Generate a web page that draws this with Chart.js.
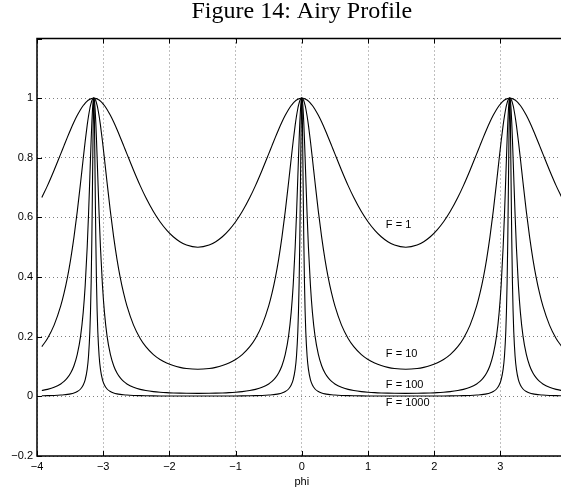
<!DOCTYPE html>
<html>
<head>
<meta charset="utf-8">
<script src="https://cdn.jsdelivr.net/npm/chart.js@4.4.0/dist/chart.umd.min.js"></script>
<style>
body { margin: 0; background: #fff; }
#wrap { width: 561px; height: 491px; overflow: hidden; }
</style>
</head>
<body>
<div id="wrap"><canvas id="graph1" width="592" height="491"></canvas></div>
<script>
// phi values (denser near the peaks at -pi, 0, pi)
const phi = [
    -3.9270, -3.8416, -3.7416, -3.6416, -3.5916, -3.5416, -3.4916, -3.4416, -3.3916, -3.3416, -3.3016, -3.2716, -3.2416, -3.2216, -3.2016, -3.1916, -3.1816, -3.1716, -3.1616, -3.1516, -3.1466,
    -3.1416,
    -3.1366, -3.1316, -3.1216, -3.1116, -3.1016, -3.0916, -3.0816, -3.0616, -3.0416, -3.0116, -2.9816, -2.9416, -2.8916, -2.8416, -2.7916, -2.7416, -2.6916, -2.6416, -2.5416, -2.4416, -2.3562, -2.2416, -2.1416, -2.0416, -1.9416, -1.8416, -1.7416,
    -1.5708,
    -1.4, -1.3, -1.2, -1.1, -1.0, -0.9, -0.7854, -0.7, -0.6, -0.5, -0.45, -0.4, -0.35, -0.3, -0.25, -0.2, -0.16, -0.13, -0.1, -0.08, -0.06, -0.05, -0.04, -0.03, -0.02, -0.01, -0.005,
    0,
    0.005, 0.01, 0.02, 0.03, 0.04, 0.05, 0.06, 0.08, 0.1, 0.13, 0.16, 0.2, 0.25, 0.3, 0.35, 0.4, 0.45, 0.5, 0.6, 0.7, 0.7854, 0.9, 1.0, 1.1, 1.2, 1.3, 1.4,
    1.5708,
    1.7416, 1.8416, 1.9416, 2.0416, 2.1416, 2.2416, 2.3562, 2.4416, 2.5416, 2.6416, 2.6916, 2.7416, 2.7916, 2.8416, 2.8916, 2.9416, 2.9816, 3.0116, 3.0416, 3.0616, 3.0816, 3.0916, 3.1016, 3.1116, 3.1216, 3.1316, 3.1366,
    3.1416,
    3.1466, 3.1516, 3.1616, 3.1716, 3.1816, 3.1916, 3.2016, 3.2216, 3.2416, 3.2716, 3.3016, 3.3416, 3.3916, 3.4416, 3.4916, 3.5416, 3.5916, 3.6416, 3.7416, 3.8416, 3.9270
];

const f1 = [
    0.6667, 0.7067, 0.7583, 0.8131, 0.8409, 0.8683, 0.8948, 0.9197, 0.9423, 0.9620, 0.9752, 0.9835, 0.9901, 0.9937, 0.9964, 0.9975, 0.9984, 0.9991, 0.9996, 0.9999, 1.0000,
    1,
    1.0000, 0.9999, 0.9996, 0.9991, 0.9984, 0.9975, 0.9964, 0.9937, 0.9901, 0.9835, 0.9752, 0.9620, 0.9423, 0.9197, 0.8948, 0.8683, 0.8409, 0.8131, 0.7583, 0.7067, 0.6667, 0.6197, 0.5854, 0.5573, 0.5351, 0.5186, 0.5073,
    0.5,
    0.5073, 0.5186, 0.5351, 0.5573, 0.5854, 0.6197, 0.6667, 0.7067, 0.7583, 0.8131, 0.8409, 0.8683, 0.8948, 0.9197, 0.9423, 0.9620, 0.9752, 0.9835, 0.9901, 0.9937, 0.9964, 0.9975, 0.9984, 0.9991, 0.9996, 0.9999, 1.0000,
    1,
    1.0000, 0.9999, 0.9996, 0.9991, 0.9984, 0.9975, 0.9964, 0.9937, 0.9901, 0.9835, 0.9752, 0.9620, 0.9423, 0.9197, 0.8948, 0.8683, 0.8409, 0.8131, 0.7583, 0.7067, 0.6667, 0.6197, 0.5854, 0.5573, 0.5351, 0.5186, 0.5073,
    0.5,
    0.5073, 0.5186, 0.5351, 0.5573, 0.5854, 0.6197, 0.6667, 0.7067, 0.7583, 0.8131, 0.8409, 0.8683, 0.8948, 0.9197, 0.9423, 0.9620, 0.9752, 0.9835, 0.9901, 0.9937, 0.9964, 0.9975, 0.9984, 0.9991, 0.9996, 0.9999, 1.0000,
    1,
    1.0000, 0.9999, 0.9996, 0.9991, 0.9984, 0.9975, 0.9964, 0.9937, 0.9901, 0.9835, 0.9752, 0.9620, 0.9423, 0.9197, 0.8948, 0.8683, 0.8409, 0.8131, 0.7583, 0.7067, 0.6667
];

const f10 = [
    0.1667, 0.1942, 0.2388, 0.3032, 0.3458, 0.3974, 0.4596, 0.5338, 0.6203, 0.7170, 0.7976, 0.8561, 0.9094, 0.9400, 0.9653, 0.9756, 0.9843, 0.9911, 0.9960, 0.9990, 0.9998,
    1,
    0.9998, 0.9990, 0.9960, 0.9911, 0.9843, 0.9756, 0.9653, 0.9400, 0.9094, 0.8561, 0.7976, 0.7170, 0.6203, 0.5338, 0.4596, 0.3974, 0.3458, 0.3032, 0.2388, 0.1942, 0.1667, 0.1401, 0.1238, 0.1118, 0.1032, 0.0972, 0.0934,
    0.0909,
    0.0934, 0.0972, 0.1032, 0.1118, 0.1238, 0.1401, 0.1667, 0.1942, 0.2388, 0.3032, 0.3458, 0.3974, 0.4596, 0.5338, 0.6203, 0.7170, 0.7976, 0.8561, 0.9094, 0.9400, 0.9653, 0.9756, 0.9843, 0.9911, 0.9960, 0.9990, 0.9998,
    1,
    0.9998, 0.9990, 0.9960, 0.9911, 0.9843, 0.9756, 0.9653, 0.9400, 0.9094, 0.8561, 0.7976, 0.7170, 0.6203, 0.5338, 0.4596, 0.3974, 0.3458, 0.3032, 0.2388, 0.1942, 0.1667, 0.1401, 0.1238, 0.1118, 0.1032, 0.0972, 0.0934,
    0.0909,
    0.0934, 0.0972, 0.1032, 0.1118, 0.1238, 0.1401, 0.1667, 0.1942, 0.2388, 0.3032, 0.3458, 0.3974, 0.4596, 0.5338, 0.6203, 0.7170, 0.7976, 0.8561, 0.9094, 0.9400, 0.9653, 0.9756, 0.9843, 0.9911, 0.9960, 0.9990, 0.9998,
    1,
    0.9998, 0.9990, 0.9960, 0.9911, 0.9843, 0.9756, 0.9653, 0.9400, 0.9094, 0.8561, 0.7976, 0.7170, 0.6203, 0.5338, 0.4596, 0.3974, 0.3458, 0.3032, 0.2388, 0.1942, 0.1667
];

const f100 = [
    0.0196, 0.0235, 0.0304, 0.0417, 0.0502, 0.0619, 0.0784, 0.1027, 0.1404, 0.2021, 0.2826, 0.3731, 0.5008, 0.6103, 0.7355, 0.8001, 0.8621, 0.9175, 0.9615, 0.9901, 0.9975,
    1,
    0.9975, 0.9901, 0.9615, 0.9175, 0.8621, 0.8001, 0.7355, 0.6103, 0.5008, 0.3731, 0.2826, 0.2021, 0.1404, 0.1027, 0.0784, 0.0619, 0.0502, 0.0417, 0.0304, 0.0235, 0.0196, 0.0160, 0.0139, 0.0124, 0.0114, 0.0107, 0.0102,
    0.0099,
    0.0102, 0.0107, 0.0114, 0.0124, 0.0139, 0.0160, 0.0196, 0.0235, 0.0304, 0.0417, 0.0502, 0.0619, 0.0784, 0.1027, 0.1404, 0.2021, 0.2826, 0.3731, 0.5008, 0.6103, 0.7355, 0.8001, 0.8621, 0.9175, 0.9615, 0.9901, 0.9975,
    1,
    0.9975, 0.9901, 0.9615, 0.9175, 0.8621, 0.8001, 0.7355, 0.6103, 0.5008, 0.3731, 0.2826, 0.2021, 0.1404, 0.1027, 0.0784, 0.0619, 0.0502, 0.0417, 0.0304, 0.0235, 0.0196, 0.0160, 0.0139, 0.0124, 0.0114, 0.0107, 0.0102,
    0.0099,
    0.0102, 0.0107, 0.0114, 0.0124, 0.0139, 0.0160, 0.0196, 0.0235, 0.0304, 0.0417, 0.0502, 0.0619, 0.0784, 0.1027, 0.1404, 0.2021, 0.2826, 0.3731, 0.5008, 0.6103, 0.7355, 0.8001, 0.8621, 0.9175, 0.9615, 0.9901, 0.9975,
    1,
    0.9975, 0.9901, 0.9615, 0.9175, 0.8621, 0.8001, 0.7355, 0.6103, 0.5008, 0.3731, 0.2826, 0.2021, 0.1404, 0.1027, 0.0784, 0.0619, 0.0502, 0.0417, 0.0304, 0.0235, 0.0196
];

const f1000 = [
    0.0020, 0.0024, 0.0031, 0.0043, 0.0053, 0.0066, 0.0084, 0.0113, 0.0161, 0.0247, 0.0379, 0.0562, 0.0912, 0.1354, 0.2176, 0.2859, 0.3848, 0.5264, 0.7143, 0.9091, 0.9756,
    1,
    0.9756, 0.9091, 0.7143, 0.5264, 0.3848, 0.2859, 0.2176, 0.1354, 0.0912, 0.0562, 0.0379, 0.0247, 0.0161, 0.0113, 0.0084, 0.0066, 0.0053, 0.0043, 0.0031, 0.0024, 0.0020, 0.0016, 0.0014, 0.0013, 0.0012, 0.0011, 0.0010,
    0.0010,
    0.0010, 0.0011, 0.0012, 0.0013, 0.0014, 0.0016, 0.0020, 0.0024, 0.0031, 0.0043, 0.0053, 0.0066, 0.0084, 0.0113, 0.0161, 0.0247, 0.0379, 0.0562, 0.0912, 0.1354, 0.2176, 0.2859, 0.3848, 0.5264, 0.7143, 0.9091, 0.9756,
    1,
    0.9756, 0.9091, 0.7143, 0.5264, 0.3848, 0.2859, 0.2176, 0.1354, 0.0912, 0.0562, 0.0379, 0.0247, 0.0161, 0.0113, 0.0084, 0.0066, 0.0053, 0.0043, 0.0031, 0.0024, 0.0020, 0.0016, 0.0014, 0.0013, 0.0012, 0.0011, 0.0010,
    0.0010,
    0.0010, 0.0011, 0.0012, 0.0013, 0.0014, 0.0016, 0.0020, 0.0024, 0.0031, 0.0043, 0.0053, 0.0066, 0.0084, 0.0113, 0.0161, 0.0247, 0.0379, 0.0562, 0.0912, 0.1354, 0.2176, 0.2859, 0.3848, 0.5264, 0.7143, 0.9091, 0.9756,
    1,
    0.9756, 0.9091, 0.7143, 0.5264, 0.3848, 0.2859, 0.2176, 0.1354, 0.0912, 0.0562, 0.0379, 0.0247, 0.0161, 0.0113, 0.0084, 0.0066, 0.0053, 0.0043, 0.0031, 0.0024, 0.0020
];

const seriesNames = ['F = 1', 'F = 10', 'F = 100', 'F = 1000'];
// where the curve names sit, in data units
const nameX = [1.27, 1.27, 1.27, 1.27];
const nameY = [0.576, 0.141, 0.037, -0.023];

const titleText = 'Figure 14: Airy Profile';
const xTitle = 'phi';

const sans = '"Liberation Sans", Arial, sans-serif';

function minus(v) {
    return String(Math.round(v * 10) / 10).replace('-', '\u2212');
}

function pts(ys) {
    return phi.map(function (p, i) { return {x: p, y: ys[i]}; });
}

const allSeries = [f1, f10, f100, f1000];

// box, inward ticks and curve names (matlab look)
const boxPlugin = {
    id: 'box',
    afterDatasetsDraw: function (chart) {
        const ctx = chart.ctx;
        const a = chart.chartArea;
        const xs = chart.scales.x;
        const ys = chart.scales.y;
        ctx.save();
        ctx.strokeStyle = '#000';
        ctx.lineWidth = 1;
        ctx.beginPath();
        xs.ticks.forEach(function (t) {
            const px = Math.round(xs.getPixelForValue(t.value)) + 0.5;
            ctx.moveTo(px, a.bottom); ctx.lineTo(px, a.bottom - 5);
            ctx.moveTo(px, a.top); ctx.lineTo(px, a.top + 5);
        });
        ys.ticks.forEach(function (t) {
            const py = Math.round(ys.getPixelForValue(t.value)) + 0.5;
            ctx.moveTo(a.left, py); ctx.lineTo(a.left + 5, py);
            ctx.moveTo(a.right, py); ctx.lineTo(a.right - 5, py);
        });
        ctx.stroke();
        ctx.lineWidth = 1.5;
        ctx.strokeRect(a.left, a.top, a.right - a.left, a.bottom - a.top);

        ctx.font = '11px ' + sans;
        ctx.fillStyle = '#000';
        ctx.textBaseline = 'middle';
        ctx.textAlign = 'left';
        seriesNames.forEach(function (n, i) {
            ctx.fillText(n, xs.getPixelForValue(nameX[i]), ys.getPixelForValue(nameY[i]));
        });
        ctx.restore();
    }
};

const config = {
    type: 'line',
    data: {
        datasets: allSeries.map(function (s, i) {
            return {
                label: seriesNames[i],
                data: pts(s),
                borderColor: '#000',
                borderWidth: 1.1,
                pointRadius: 0,
                fill: false,
                cubicInterpolationMode: 'monotone'
            };
        })
    },
    options: {
        responsive: false,
        animation: false,
        devicePixelRatio: 1,
        layout: {padding: {left: 0, right: 25.4, top: 0, bottom: 0}},
        plugins: {
            legend: {display: false},
            tooltip: {enabled: false},
            title: {
                display: true,
                fullSize: false,
                text: titleText,
                color: '#000',
                font: {family: '"Liberation Serif", "Times New Roman", serif', size: 24, weight: 'normal', lineHeight: 1},
                padding: {top: 0, bottom: 14.5}
            }
        },
        scales: {
            x: {
                type: 'linear',
                min: -4,
                max: 4,
                afterFit: function (scale) { scale.height = 35; },
                ticks: {
                    stepSize: 1,
                    color: '#000',
                    font: {family: sans, size: 11},
                    padding: 4,
                    maxRotation: 0,
                    callback: function (v) { return minus(v); }
                },
                grid: {
                    color: 'rgba(0,0,0,0.5)',
                    drawTicks: false,
                    lineWidth: 1
                },
                border: {display: false, dash: [1, 3]},
                title: {
                    display: true,
                    text: xTitle,
                    color: '#000',
                    font: {family: sans, size: 11},
                    padding: {top: 0, bottom: 2}
                }
            },
            y: {
                min: -0.2,
                max: 1.2,
                afterFit: function (scale) { scale.width = 37; },
                ticks: {
                    stepSize: 0.2,
                    color: '#000',
                    font: {family: sans, size: 11},
                    padding: 4,
                    callback: function (v) {
                        if (Math.abs(v - 1.2) < 1e-6) return '';
                        return minus(v);
                    }
                },
                grid: {
                    color: 'rgba(0,0,0,0.5)',
                    drawTicks: false,
                    lineWidth: 1
                },
                border: {display: false, dash: [1, 3]}
            }
        }
    },
    plugins: [boxPlugin]
};

const myChart = new Chart(document.querySelector('#graph1'), config);
</script>
</body>
</html>
